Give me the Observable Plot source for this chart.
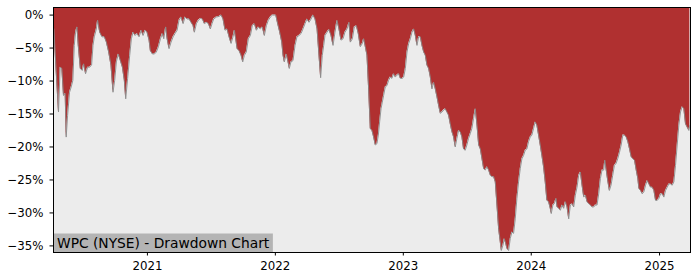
<!DOCTYPE html>
<html>
<head>
<meta charset="utf-8">
<script src="https://cdn.jsdelivr.net/npm/d3@7"></script>
<script src="https://cdn.jsdelivr.net/npm/@observablehq/plot@0.6"></script>
<style>
  html, body { margin: 0; padding: 0; background: #fff; }
  #chart svg { display: block; font-family: "DejaVu Sans", sans-serif; }
</style>
</head>
<body>
<div id="chart"></div>
<script>
const title = "WPC (NYSE) - Drawdown Chart";

// decimal-year positions
const dates = [
2020.271,2020.289,2020.307,2020.320,2020.333,2020.346,2020.359,2020.367,2020.378,2020.393,
2020.406,2020.419,2020.430,2020.440,2020.451,2020.461,2020.477,2020.492,2020.503,2020.518,
2020.534,2020.549,2020.565,2020.576,2020.586,2020.602,2020.612,2020.628,2020.646,2020.664,
2020.680,2020.698,2020.716,2020.732,2020.745,2020.758,2020.773,2020.789,2020.805,2020.820,
2020.831,2020.846,2020.862,2020.875,2020.888,2020.904,2020.919,2020.935,2020.951,2020.966,
2020.982,2020.997,2021.013,2021.023,2021.039,2021.055,2021.070,2021.086,2021.102,2021.117,
2021.128,2021.143,2021.154,2021.169,2021.185,2021.201,2021.216,2021.232,2021.247,2021.263,
2021.279,2021.294,2021.310,2021.326,2021.341,2021.357,2021.367,2021.383,2021.398,2021.414,
2021.430,2021.445,2021.461,2021.477,2021.492,2021.505,2021.518,2021.539,2021.560,2021.576,
2021.591,2021.607,2021.622,2021.638,2021.654,2021.669,2021.680,2021.690,2021.701,2021.716,
2021.732,2021.745,2021.758,2021.773,2021.789,2021.805,2021.820,2021.836,2021.852,2021.867,
2021.883,2021.898,2021.914,2021.930,2021.945,2021.961,2021.977,2021.992,2022.003,2022.018,
2022.034,2022.050,2022.060,2022.070,2022.086,2022.099,2022.109,2022.122,2022.138,2022.154,
2022.169,2022.185,2022.201,2022.216,2022.232,2022.247,2022.263,2022.279,2022.294,2022.310,
2022.326,2022.341,2022.354,2022.367,2022.378,2022.388,2022.404,2022.419,2022.435,2022.451,
2022.466,2022.482,2022.497,2022.513,2022.529,2022.544,2022.560,2022.576,2022.586,2022.602,
2022.617,2022.633,2022.648,2022.664,2022.680,2022.690,2022.703,2022.716,2022.729,2022.742,
2022.755,2022.768,2022.781,2022.794,2022.805,2022.815,2022.826,2022.836,2022.846,2022.859,
2022.872,2022.885,2022.898,2022.911,2022.924,2022.937,2022.951,2022.964,2022.977,2022.992,
2023.003,2023.016,2023.029,2023.042,2023.055,2023.068,2023.081,2023.094,2023.107,2023.120,
2023.133,2023.146,2023.159,2023.172,2023.185,2023.198,2023.211,2023.224,2023.237,2023.250,
2023.263,2023.276,2023.289,2023.302,2023.315,2023.328,2023.341,2023.354,2023.367,2023.380,
2023.393,2023.406,2023.419,2023.432,2023.445,2023.458,2023.471,2023.484,2023.497,2023.510,
2023.523,2023.536,2023.549,2023.563,2023.576,2023.589,2023.602,2023.615,2023.628,2023.641,
2023.654,2023.667,2023.680,2023.693,2023.706,2023.719,2023.732,2023.745,2023.758,2023.766,
2023.779,2023.789,2023.800,2023.810,2023.823,2023.836,2023.849,2023.862,2023.875,2023.888,
2023.901,2023.914,2023.927,2023.940,2023.953,2023.966,2023.979,2023.992,2024.005,2024.018,
2024.031,2024.044,2024.057,2024.070,2024.083,2024.096,2024.109,2024.122,2024.135,2024.148,
2024.156,2024.169,2024.180,2024.193,2024.201,2024.214,2024.227,2024.240,2024.253,2024.266,
2024.279,2024.292,2024.305,2024.318,2024.331,2024.344,2024.357,2024.370,2024.383,2024.396,
2024.409,2024.422,2024.435,2024.448,2024.461,2024.474,2024.487,2024.500,2024.513,2024.526,
2024.539,2024.552,2024.565,2024.573,2024.583,2024.596,2024.609,2024.622,2024.635,2024.648,
2024.661,2024.674,2024.688,2024.701,2024.714,2024.727,2024.740,2024.753,2024.766,2024.779,
2024.792,2024.805,2024.818,2024.831,2024.839,2024.852,2024.865,2024.878,2024.891,2024.904,
2024.917,2024.930,2024.943,2024.956,2024.969,2024.982,2024.995,2025.008,2025.021,2025.034,
2025.047,2025.060,2025.073,2025.086,2025.099,2025.112,2025.125,2025.138,2025.151,2025.164,
2025.177,2025.190,2025.203,2025.216,2025.229,2025.237
];

// drawdown in percent
const drawdown = [
-2.1,-8.6,-14.7,-7.9,-8.1,-12.2,-11.9,-18.5,-15.2,-11.7,
-10.9,-9.9,-4.6,-2.6,-1.8,-4.6,-8.1,-8.4,-7.4,-8.9,
-7.9,-7.9,-7.6,-4.6,-3.3,-2.1,-0.8,-2.6,-3.3,-3.3,
-4.1,-5.6,-7.6,-11.7,-9.9,-7.1,-5.9,-6.9,-7.9,-9.9,
-12.7,-9.6,-6.1,-3.6,-2.6,-3.1,-2.8,-3.3,-2.3,-3.1,
-2.3,-2.6,-3.8,-5.4,-5.9,-5.9,-5.6,-4.8,-3.6,-2.8,
-3.6,-1.8,-3.6,-5.1,-4.1,-3.3,-2.8,-2.3,-0.8,-0.3,
-1.3,-0.3,-0.6,-0.6,-1.1,-1.6,-2.6,-1.3,-0.8,-0.5,
-0.6,-1.3,-1.1,-1.3,-2.1,-1.3,-0.6,-0.3,-0.2,0,
-0.6,-2.3,-2.1,-3.3,-4.3,-3.3,-2.3,-3.6,-5.1,-5.4,
-6.1,-7.1,-6.1,-5.6,-3.6,-3.1,-1.6,-1.3,-2.3,-1.8,
-2.1,-1.8,-3.1,-1.6,-0.8,-0.3,0,0,0,-1.3,
-2.6,-4.1,-6.1,-7.1,-5.9,-7.1,-8.1,-7.1,-6.9,-4.6,
-3.3,-3.1,-2.8,-2.1,-1.3,-0.6,-1.1,-0.6,0,-0.6,
-2.1,-6.1,-9.5,-6.1,-4.6,-3.1,-2.6,-2.2,-3.1,-4.6,
-2.6,-0.8,-2.1,-3.8,-3.6,-2.6,-2.1,-1.1,-4.1,-3.6,
-1.8,-1.6,-2.8,-4.8,-4.3,-3.6,-4.8,-6.1,-11.2,-17.2,
-17.5,-18.5,-19.7,-19.5,-18.2,-16.2,-14.2,-13.2,-12.2,-10.9,
-10.7,-9.9,-9.4,-9.6,-8.9,-9.4,-9.1,-8.9,-9.6,-9.6,
-9.4,-8.1,-5.6,-4.3,-3.6,-2.6,-2.1,-3.1,-4.6,-3.3,
-3.3,-4.6,-5.6,-6.1,-7.6,-8.1,-9.4,-11.2,-10.2,-11.2,
-12.4,-13.7,-14.9,-14.7,-14.4,-14.2,-14.7,-15.2,-16.5,-17.7,
-18.5,-20.0,-18.7,-17.5,-17.7,-18.5,-20.3,-20.5,-19.7,-18.7,
-18.0,-17.2,-15.7,-14.2,-16.7,-19.7,-20.3,-21.8,-23.3,-23.5,
-23.0,-23.5,-24.3,-24.5,-24.5,-25.3,-28.8,-32.4,-34.4,-35.7,
-34.9,-33.9,-34.6,-35.4,-35.7,-33.9,-32.9,-33.1,-30.9,-27.8,
-25.3,-23.3,-21.8,-21.3,-20.5,-20.3,-19.2,-18.5,-18.2,-17.2,
-16.2,-16.7,-18.2,-19.7,-21.3,-23.0,-25.3,-28.1,-28.3,-29.3,
-30.1,-28.8,-28.6,-27.8,-29.1,-29.3,-29.6,-28.8,-29.3,-28.3,
-29.1,-30.9,-28.8,-28.6,-29.1,-27.3,-26.1,-24.3,-23.8,-25.8,
-27.6,-27.3,-28.3,-28.6,-28.8,-29.1,-29.1,-28.8,-28.8,-27.1,
-24.8,-23.5,-23.5,-22.0,-23.3,-25.1,-26.6,-25.8,-24.3,-22.8,
-22.5,-21.8,-20.8,-19.7,-18.2,-18.2,-18.5,-19.2,-20.3,-21.5,
-21.8,-22.0,-23.5,-24.8,-26.3,-26.6,-27.1,-26.8,-25.8,-25.1,
-25.6,-26.1,-26.1,-26.6,-28.1,-28.1,-27.8,-27.1,-27.1,-27.6,
-26.6,-26.1,-25.6,-25.6,-25.8,-25.3,-22.8,-19.7,-16.7,-14.7,
-13.9,-14.2,-16.5,-17.0,-17.5,-16.7
];

const yTicks = [0, -5, -10, -15, -20, -25, -30, -35];
const xTickYears = [2021, 2022, 2023, 2024, 2025];
const xRange = [2020.268, 2025.242];
const yRange = [-36.0, 1.15];

function yearToDate(y) {
  const yr = Math.floor(y);
  const a = Date.UTC(yr, 0, 1), b = Date.UTC(yr + 1, 0, 1);
  return new Date(a + (y - yr) * (b - a));
}

const data = dates.map((d, i) => ({date: yearToDate(d), dd: drawdown[i]}));
const fmtPct = d => (d < 0 ? "\u2212" : "") + Math.abs(d) + "%";

const chart = Plot.plot({
  width: 700,
  height: 280,
  marginLeft: 53,
  marginRight: 10,
  marginTop: 7,
  marginBottom: 28,
  style: {fontFamily: "DejaVu Sans, sans-serif", fontSize: "11.8px", color: "#000", background: "#fff"},
  x: {type: "utc", domain: xRange.map(yearToDate), label: null},
  y: {domain: yRange, label: null},
  marks: [
    Plot.frame({fill: "#ececec", stroke: null}),
    Plot.areaY(data, {x: "date", y1: "dd", y2: () => yRange[1], fill: "#b03030", curve: "linear"}),
    Plot.lineY(data, {x: "date", y: "dd", stroke: "#8a8a8a", strokeWidth: 0.9}),
    Plot.axisY({ticks: yTicks, tickFormat: fmtPct, tickSize: 3.5, tickPadding: 6.5, label: null, fontSize: 11.8}),
    Plot.axisX({ticks: xTickYears.map(y => yearToDate(y)), tickFormat: d => String(d.getUTCFullYear()), tickSize: 3.5, tickPadding: 6, label: null, fontSize: 11.8}),
    Plot.text([title], {frameAnchor: "bottom-left", dx: 3.5, dy: -5, fontSize: 13.8, fill: "#000", textAnchor: "start", lineAnchor: "bottom"}),
    Plot.frame({stroke: "#000", strokeWidth: 1})
  ]
});

document.getElementById("chart").appendChild(chart);

// grey background box behind the label, sized from the rendered text
const textSel = d3.select(chart).selectAll("text").filter(function() { return this.textContent === title; });
const textNode = textSel.node();
if (textNode) {
  const bb = textNode.getBBox();
  const frameLeft = 53, frameBottom = 252;
  const ctm = textNode.getCTM();
  const svgCtm = chart.getCTM ? chart.getCTM() : null;
  // bbox in SVG-root coordinates
  const pt = chart.createSVGPoint();
  pt.x = bb.x; pt.y = bb.y;
  const m = textNode.getScreenCTM();
  const rootM = chart.getScreenCTM();
  const rel = rootM.inverse().multiply(m);
  const p0 = pt.matrixTransform(rel);
  pt.x = bb.x + bb.width; pt.y = bb.y + bb.height;
  const p1 = pt.matrixTransform(rel);
  d3.select(chart).insert("rect", function() { return textNode.closest("g[aria-label]") || textNode; })
    .attr("x", frameLeft)
    .attr("y", p0.y - 1)
    .attr("width", p1.x + 3 - frameLeft)
    .attr("height", frameBottom - (p0.y - 1))
    .attr("fill", "#b4b4b4");
}
</script>
</body>
</html>
